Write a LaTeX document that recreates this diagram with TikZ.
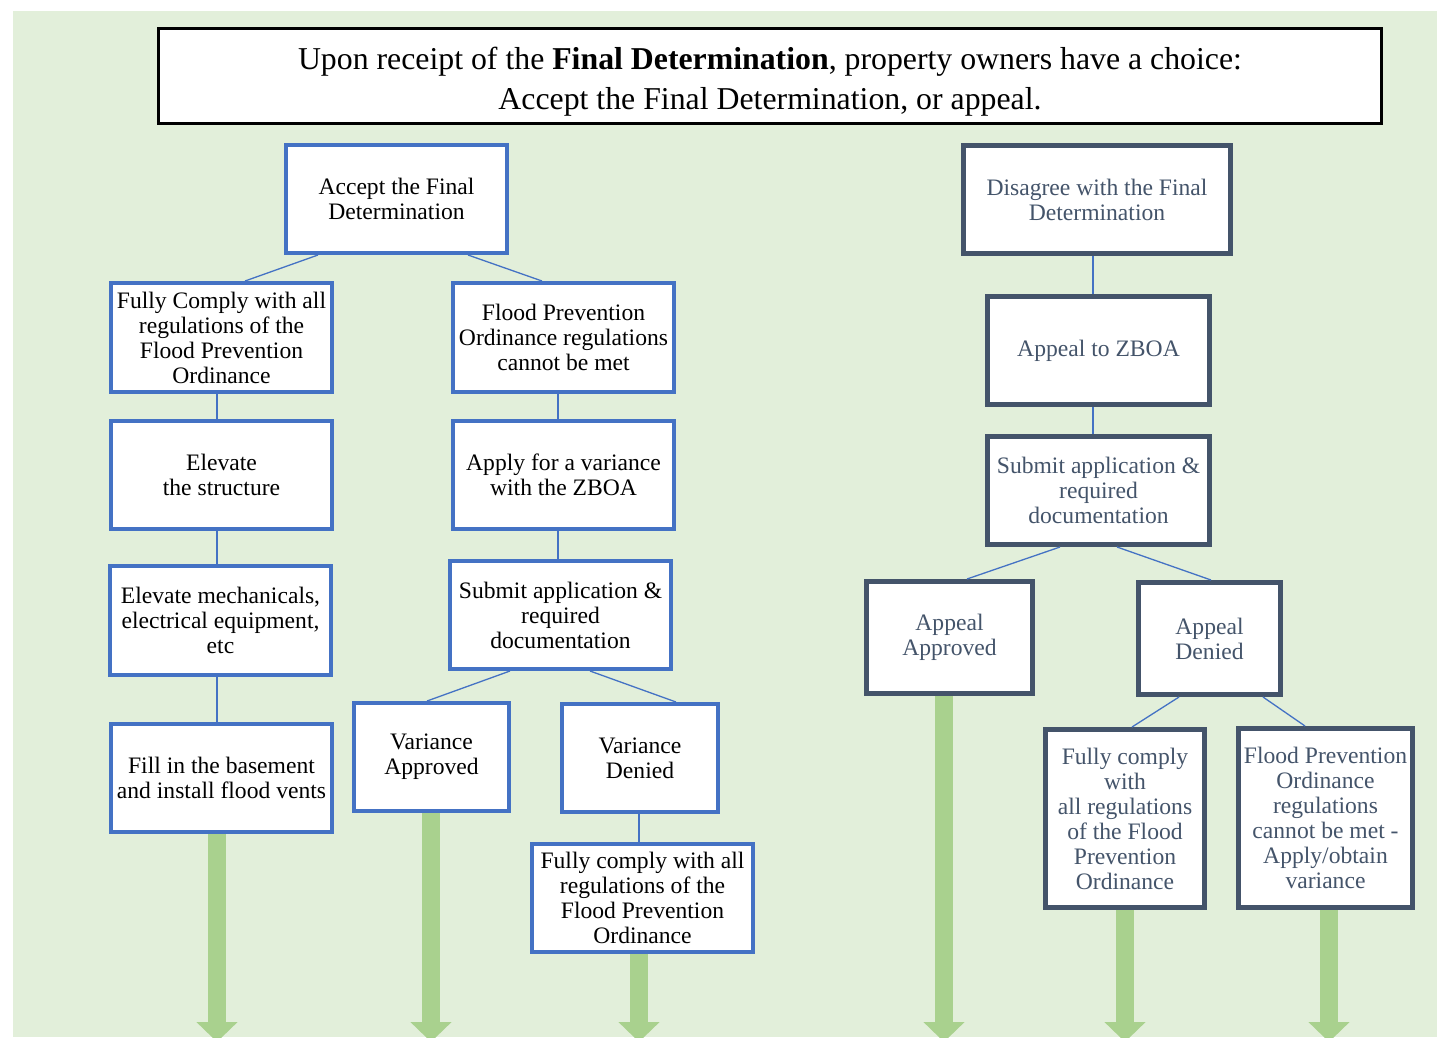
\documentclass[tikz,border=0pt]{standalone}
\usepackage{fontspec}
\setmainfont{Liberation Serif}
\usetikzlibrary{arrows.meta}
\definecolor{bgg}{HTML}{E2EFDA}
\definecolor{blueb}{HTML}{4472C4}
\definecolor{slate}{HTML}{44546A}
\definecolor{garr}{HTML}{A9D18E}
\newcommand\boxfs{\fontsize{23.6}{25}\selectfont}
\tikzset{
  bbox/.style={draw=blueb, line width=4pt, fill=white, align=center, inner sep=0pt, font=\boxfs},
  dbox/.style={draw=slate, line width=5pt, fill=white, align=center, inner sep=0pt, font=\boxfs, text=slate},
  conn/.style={draw=blueb, line width=1.3pt},
  garrow/.style={draw=garr, line width=18pt, -{Triangle[width=40pt,length=20pt]}}
}
\begin{document}
\begin{tikzpicture}[x=1pt,y=-1pt]
\useasboundingbox (0,0) rectangle (1437,1037);
\clip (0,0) rectangle (1437,1037);
\fill[white] (0,0) rectangle (1437,1037);
\fill[bgg] (13,11) rectangle (1437,1037);

\coordinate (g1) at (217,1042);
\coordinate (g2) at (431,1042);
\coordinate (g3) at (639,1042);
\coordinate (g4) at (944,1042);
\coordinate (g5) at (1125,1042);
\coordinate (g6) at (1329,1042);

% title
\node[draw=black, line width=2.5pt, fill=white, minimum width=1223pt, minimum height=95pt, align=center, inner sep=0pt, font=\fontsize{31.8}{40}\selectfont] (T) at (770,76)
  {\rule{0pt}{33pt}Upon receipt of the \textbf{Final Determination}, property owners have a choice:\\Accept the Final Determination, or appeal.};

% left tree
\node[bbox, minimum width=221pt, minimum height=108pt] (A) at (396.5,199) {Accept the Final\\Determination};
\node[bbox, minimum width=221pt, minimum height=109pt] (B1) at (221.5,337.5) {Fully Comply with all\\regulations of the\\Flood Prevention\\Ordinance};
\node[bbox, minimum width=221pt, minimum height=109pt] (B2) at (563.5,337.5) {Flood Prevention\\Ordinance regulations\\cannot be met};
\node[bbox, minimum width=221pt, minimum height=108pt] (C1) at (221.5,475) {Elevate\\the structure};
\node[bbox, minimum width=221pt, minimum height=108pt] (C2) at (563.5,475) {Apply for a variance\\with the ZBOA};
\node[bbox, minimum width=221pt, minimum height=109pt] (D1) at (220.5,620.5) {Elevate mechanicals,\\electrical equipment,\\etc};
\node[bbox, minimum width=221pt, minimum height=108pt] (D2) at (560.5,615) {Submit application \&\\required\\documentation};
\node[bbox, minimum width=221pt, minimum height=108pt] (E1) at (221.5,778) {Fill in the basement\\and install flood vents};
\node[bbox, minimum width=155pt, minimum height=108pt] (E2a) at (431.5,757) {Variance\\Approved};
\node[bbox, minimum width=156pt, minimum height=108pt] (E2b) at (640,758) {Variance\\Denied};
\node[bbox, minimum width=221pt, minimum height=108pt] (F) at (642.5,898) {Fully comply with all\\regulations of the\\Flood Prevention\\Ordinance};

% right tree
\node[dbox, minimum width=267pt, minimum height=108pt] (R1) at (1097,199.5) {Disagree with the Final\\Determination};
\node[dbox, minimum width=222pt, minimum height=108pt] (R2) at (1098.5,350.5) {Appeal to ZBOA};
\node[dbox, minimum width=222pt, minimum height=108pt] (R3) at (1098.5,490.5) {Submit application \&\\required\\documentation};
\node[dbox, minimum width=166pt, minimum height=112pt] (R4a) at (949.5,637.5) {Appeal\\Approved};
\node[dbox, minimum width=142pt, minimum height=112pt] (R4b) at (1209.5,638.5) {Appeal\\Denied};
\node[dbox, minimum width=159pt, minimum height=178pt] (R5a) at (1125,818.5) {Fully comply\\with\\all regulations\\of the Flood\\Prevention\\Ordinance};
\node[dbox, minimum width=174pt, minimum height=179pt] (R5b) at (1325.5,818) {Flood Prevention\\Ordinance\\regulations\\cannot be met -\\Apply/obtain\\variance};

% connectors left
\draw[conn] ([xshift=-78.5pt]A.south) -- ([xshift=23.5pt]B1.north);
\draw[conn] ([xshift=71.5pt]A.south) -- ([xshift=-21.5pt]B2.north);
\draw[conn] ([xshift=-4.5pt]B1.south) -- ([xshift=-4.5pt]C1.north);
\draw[conn] ([xshift=-4.5pt]C1.south) -- ([xshift=-3.5pt]D1.north);
\draw[conn] ([xshift=-3.5pt]D1.south) -- ([xshift=-4.5pt]E1.north);
\draw[conn] ([xshift=-5.5pt]B2.south) -- ([xshift=-5.5pt]C2.north);
\draw[conn] ([xshift=-5.5pt]C2.south) -- ([xshift=-2.5pt]D2.north);
\draw[conn] ([xshift=-50.5pt]D2.south) -- ([xshift=-4.5pt]E2a.north);
\draw[conn] ([xshift=29.5pt]D2.south) -- ([xshift=36pt]E2b.north);
\draw[conn] ([xshift=-1pt]E2b.south) -- ([xshift=-3.5pt]F.north);

% connectors right
\draw[conn] ([xshift=-4pt]R1.south) -- ([xshift=-5.5pt]R2.north);
\draw[conn] ([xshift=-5.5pt]R2.south) -- ([xshift=-5.5pt]R3.north);
\draw[conn] ([xshift=-38.5pt]R3.south) -- ([xshift=17.5pt]R4a.north);
\draw[conn] ([xshift=18.5pt]R3.south) -- ([xshift=1.5pt]R4b.north);
\draw[conn] ([xshift=-30.5pt]R4b.south) -- ([xshift=7pt]R5a.north);
\draw[conn] ([xshift=53.5pt]R4b.south) -- ([xshift=-20.5pt]R5b.north);

% green arrows
\draw[garrow] ([xshift=-4.5pt]E1.south) -- (g1);
\draw[garrow] ([xshift=-0.5pt]E2a.south) -- (g2);
\draw[garrow] ([xshift=-3.5pt]F.south) -- (g3);
\draw[garrow] ([xshift=-5.5pt]R4a.south) -- (g4);
\draw[garrow] (R5a.south) -- (g5);
\draw[garrow] ([xshift=3.5pt]R5b.south) -- (g6);
\end{tikzpicture}
\end{document}
